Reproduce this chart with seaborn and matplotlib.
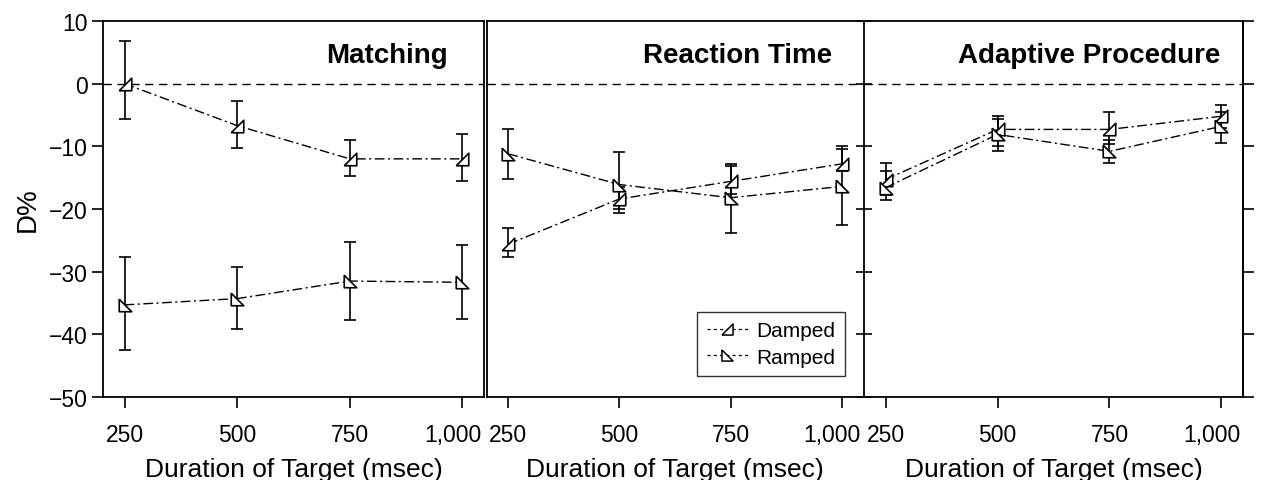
import numpy as np
import pandas as pd
import matplotlib
matplotlib.use("Agg")
import matplotlib.pyplot as plt
import matplotlib.transforms as mtransforms
from matplotlib.lines import Line2D
import seaborn as sns

# ---------------- data ----------------
durations = [250, 500, 750, 1000]
tick_labels = ["250", "500", "750", "1,000"]
panels = ["Matching", "Reaction Time", "Adaptive Procedure"]

match_damped = [0.0, -6.7, -12.0, -12.0]
match_damped_lo = [-5.7, -10.3, -14.8, -15.5]
match_damped_hi = [6.8, -2.8, -9.0, -8.0]
match_ramped = [-35.3, -34.3, -31.5, -31.7]
match_ramped_lo = [-42.5, -39.2, -37.7, -37.5]
match_ramped_hi = [-27.7, -29.2, -25.2, -25.7]

rt_damped = [-25.6, -18.4, -15.6, -12.8]
rt_damped_lo = [-27.6, -20.6, -17.6, -14.0]
rt_damped_hi = [-23.0, -16.5, -12.8, -10.0]
rt_ramped = [-11.2, -16.1, -18.2, -16.4]
rt_ramped_lo = [-15.2, -20.0, -23.9, -22.6]
rt_ramped_hi = [-7.2, -10.9, -13.2, -10.5]

ad_damped = [-15.3, -7.3, -7.3, -5.2]
ad_damped_lo = [-17.7, -10.0, -9.6, -7.0]
ad_damped_hi = [-12.6, -5.1, -4.5, -3.4]
ad_ramped = [-16.6, -8.1, -10.8, -6.8]
ad_ramped_lo = [-18.5, -10.8, -12.6, -9.5]
ad_ramped_hi = [-14.0, -5.6, -9.0, -4.5]

series = {
    "Matching": {
        "Damped": (match_damped, match_damped_lo, match_damped_hi),
        "Ramped": (match_ramped, match_ramped_lo, match_ramped_hi),
    },
    "Reaction Time": {
        "Damped": (rt_damped, rt_damped_lo, rt_damped_hi),
        "Ramped": (rt_ramped, rt_ramped_lo, rt_ramped_hi),
    },
    "Adaptive Procedure": {
        "Damped": (ad_damped, ad_damped_lo, ad_damped_hi),
        "Ramped": (ad_ramped, ad_ramped_lo, ad_ramped_hi),
    },
}

# ---------------- style ----------------
sns.set_theme(style="ticks")
plt.rcParams["font.family"] = ["Liberation Sans", "DejaVu Sans"]
plt.rcParams.update({
    "axes.linewidth": 1.3,
    "text.color": "black",
    "axes.labelcolor": "black",
    "xtick.color": "black",
    "ytick.color": "black",
    "axes.edgecolor": "black",
})

damped_marker = [(-1, -1), (1, -1), (1, 1), (-1, -1)]
ramped_marker = [(-1, 1), (-1, -1), (1, -1), (-1, 1)]
markers = {"Damped": damped_marker, "Ramped": ramped_marker}
dash = (7, 2.5, 1.5, 2.5)

W, H = 1265, 481
fig = plt.figure(figsize=(W / 100, H / 100), dpi=100)

top_px, bot_px = 22, 398
boxes = [(103, 484), (487, 863), (864, 1243)]
title_right = [448, 832, 1220]
axes = []
for (l, r) in boxes:
    ax = fig.add_axes([l / W, 1 - bot_px / H, (r - l) / W, (bot_px - top_px) / H])
    axes.append(ax)

shift_left = mtransforms.ScaledTranslation(-10 / 100, 0, fig.dpi_scale_trans)

for i, (ax, name) in enumerate(zip(axes, panels)):
    rows = []
    for s, (vals, lo, hi) in series[name].items():
        for d, v in zip(durations, vals):
            rows.append({"Duration": d, "D": v, "Type": s})
    df = pd.DataFrame(rows)
    ax.axhline(0, color="black", lw=1.0, dashes=(6, 4), zorder=1)
    for s, (vals, lo, hi) in series[name].items():
        yerr = [np.array(vals) - np.array(lo), np.array(hi) - np.array(vals)]
        ax.errorbar(durations, vals, yerr=yerr, fmt="none", ecolor="black",
                    elinewidth=1.2, capsize=4, capthick=1.2, zorder=2)
    sns.lineplot(data=df, x="Duration", y="D", style="Type", ax=ax,
                 color="black", linewidth=1.0, dashes={"Damped": dash, "Ramped": dash},
                 markers=markers, markersize=9, markerfacecolor="white",
                 markeredgecolor="black", markeredgewidth=1.2, legend=False, zorder=3)
    ax.set_xlim(202, 1048)
    ax.set_ylim(-50, 10)
    ax.set_xticks(durations)
    ax.set_xticklabels(tick_labels)
    ax.set_yticks(np.arange(-50, 11, 10))
    ax.tick_params(axis="both", labelsize=16.5, length=8, width=1.2, color="black")
    ax.tick_params(axis="x", pad=11)
    ax.tick_params(axis="y", pad=3)
    ax.set_xlabel("Duration of Target (msec)", fontsize=19, labelpad=8)
    for sp in ax.spines.values():
        sp.set_visible(True)
        sp.set_color("black")
    lab = ax.get_xticklabels()[-1]
    lab.set_transform(lab.get_transform() + shift_left)
    tx = (title_right[i] - boxes[i][0]) / (boxes[i][1] - boxes[i][0])
    ax.text(tx, (bot_px - 63) / (bot_px - top_px), name, transform=ax.transAxes,
            ha="right", va="baseline", fontsize=20, fontweight="bold")

axes[0].set_ylabel("D%", fontsize=20, labelpad=6)
axes[0].tick_params(axis="y", direction="out")
axes[1].set_ylabel("")
axes[1].tick_params(axis="y", left=False, labelleft=False)
axes[1].spines["right"].set_visible(False)
axes[2].set_ylabel("")
axes[2].tick_params(axis="y", left=True, right=False, labelleft=False,
                    direction="inout", length=12)
sec = axes[2].secondary_yaxis("right")
sec.set_yticks(np.arange(-50, 11, 10))
sec.tick_params(axis="y", direction="out", length=8, width=1.2, labelright=False)
sec.spines["right"].set_linewidth(1.3)

handles = [
    Line2D([], [], color="black", lw=0.9, dashes=(2.5, 2.5), marker=damped_marker,
           markersize=8, markerfacecolor="white", markeredgecolor="black",
           markeredgewidth=1.1),
    Line2D([], [], color="black", lw=0.9, dashes=(2.5, 2.5), marker=ramped_marker,
           markersize=8, markerfacecolor="white", markeredgecolor="black",
           markeredgewidth=1.1),
]
leg = axes[1].legend(handles, ["Damped", "Ramped"], loc="lower right",
                     bbox_to_anchor=(0.952, 0.056), borderaxespad=0,
                     fontsize=15, frameon=True,
                     fancybox=False, edgecolor="black", handlelength=2.0,
                     handletextpad=0.4, borderpad=0.45, labelspacing=0.35)
leg.get_frame().set_linewidth(1.0)

fig.savefig("out.png", dpi=100)
